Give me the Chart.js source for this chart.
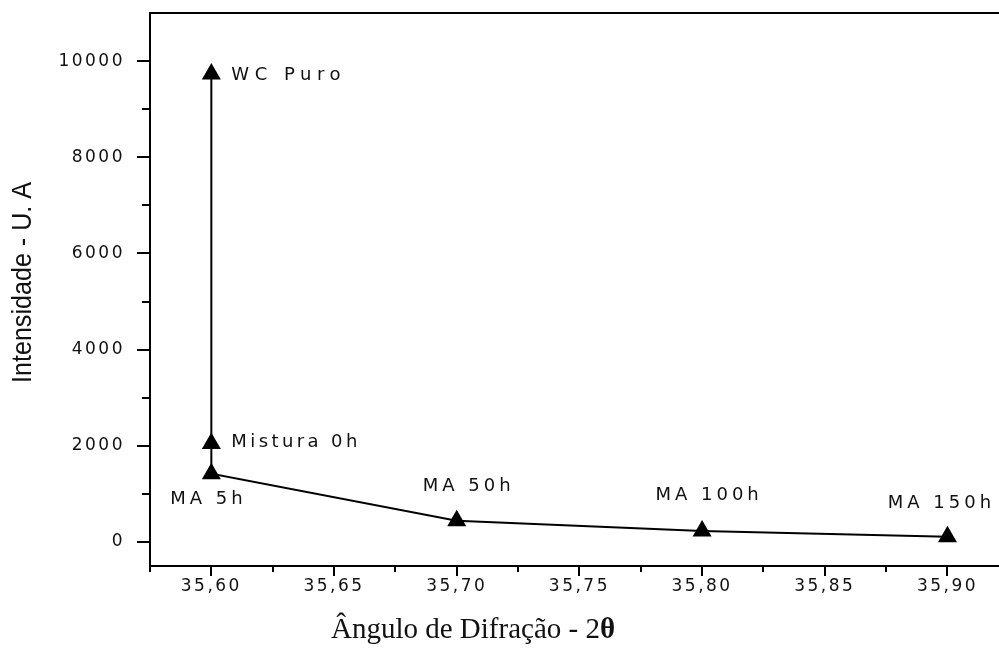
<!DOCTYPE html>
<html>
<head>
<meta charset="utf-8">
<script src="https://cdn.jsdelivr.net/npm/chart.js@4"></script>
<style>
  html, body { margin: 0; padding: 0; background: #fff; }
  #wrap { width: 999px; height: 650px; position: relative; }
</style>
</head>
<body>
<div id="wrap"><canvas id="chart"></canvas></div>
<script>
/* =========================
   DATA
========================= */

const pointNames = ["WC Puro", "Mistura 0h", "MA 5h", "MA 50h", "MA 100h", "MA 150h"];
const xValues = [35.60, 35.60, 35.60, 35.70, 35.80, 35.90];
const yValues = [9730, 2050, 1420, 440, 230, 110];

const xTickValues = [35.60, 35.65, 35.70, 35.75, 35.80, 35.85, 35.90];
const xTickLabels = ["35,60", "35,65", "35,70", "35,75", "35,80", "35,85", "35,90"];
const xMinorTicks = [35.575, 35.625, 35.675, 35.725, 35.775, 35.825, 35.875];

const yTickValues = [0, 2000, 4000, 6000, 8000, 10000];
const yTickLabels = ["0", "2000", "4000", "6000", "8000", "10000"];
const yMinorTicks = [1000, 3000, 5000, 7000, 9000];

const xTitle = "Ângulo de Difração - 2";
const xTitleSymbol = "θ";
const yTitle = "Intensidade - U. A";


/* =========================
   STYLE
========================= */

const TICK_FONT = "DejaVu Sans";
// label placement relative to its point: dx, dy, align, letter spacing
const labelStyle = [
  { dx: 20, dy: 1, align: "left", spacing: 5.5 },
  { dx: 20, dy: -1, align: "left", spacing: 3.4 },
  { dx: -3, dy: 26, align: "center", spacing: 4 },
  { dx: 12, dy: -34, align: "center", spacing: 4 },
  { dx: 7, dy: -36, align: "center", spacing: 4 },
  { dx: -6, dy: -33, align: "center", spacing: 4 }
];


/* =========================
   PLUGINS
========================= */

const spacingPlugin = {
  id: "spacing",
  beforeDraw(chart) {
    chart.ctx.letterSpacing = "2.5px";
  },
  afterDraw(chart) {
    chart.ctx.letterSpacing = "0px";
  }
};

const decorPlugin = {
  id: "decor",
  afterDraw(chart) {
    const ctx = chart.ctx;
    const area = chart.chartArea;
    const xs = chart.scales.x;
    const ys = chart.scales.y;

    ctx.save();
    ctx.letterSpacing = "0px";
    ctx.strokeStyle = "#000";
    ctx.lineWidth = 2;

    // top frame line (no right side in the original)
    ctx.beginPath();
    ctx.moveTo(area.left - 1, area.top);
    ctx.lineTo(chart.width, area.top);
    ctx.stroke();

    // minor ticks
    ctx.beginPath();
    xMinorTicks.forEach(v => {
      const px = Math.round(xs.getPixelForValue(v));
      ctx.moveTo(px, area.bottom);
      ctx.lineTo(px, area.bottom + 6);
    });
    yMinorTicks.forEach(v => {
      const py = Math.round(ys.getPixelForValue(v));
      ctx.moveTo(area.left, py);
      ctx.lineTo(area.left - 8, py);
    });
    ctx.stroke();

    // point labels
    ctx.fillStyle = "#111";
    ctx.font = "18px '" + TICK_FONT + "'";
    ctx.textBaseline = "middle";
    const meta = chart.getDatasetMeta(0);
    meta.data.forEach((pt, i) => {
      const s = labelStyle[i];
      ctx.letterSpacing = s.spacing + "px";
      ctx.textAlign = s.align;
      ctx.fillText(pointNames[i], pt.x + s.dx, pt.y + s.dy);
    });
    ctx.letterSpacing = "0px";

    // y axis title, rotated, squeezed to a narrow face
    ctx.save();
    ctx.font = "28px 'Liberation Sans Narrow', 'Liberation Sans'";
    const yw = ctx.measureText(yTitle).width;
    ctx.translate(23, (area.top + area.bottom) / 2 - 7);
    ctx.rotate(-Math.PI / 2);
    ctx.scale(201 / yw, 1);
    ctx.textAlign = "center";
    ctx.textBaseline = "middle";
    ctx.fillText(yTitle, 0, 0);
    ctx.restore();

    // x axis title: serif, with bold theta
    ctx.textAlign = "left";
    ctx.textBaseline = "alphabetic";
    ctx.font = "29px 'Liberation Serif'";
    const w1 = ctx.measureText(xTitle).width;
    ctx.font = "bold 29px 'Liberation Serif'";
    const w2 = ctx.measureText(xTitleSymbol).width;
    const cx = area.left + 323;
    const startX = cx - (w1 + w2) / 2;
    const baseY = 638;
    ctx.font = "29px 'Liberation Serif'";
    ctx.fillText(xTitle, startX, baseY);
    ctx.font = "bold 29px 'Liberation Serif'";
    ctx.fillText(xTitleSymbol, startX + w1, baseY);

    ctx.restore();
  }
};


/* =========================
   CHART
========================= */

const points = xValues.map((x, i) => ({ x: x, y: yValues[i] }));

new Chart(document.getElementById("chart"), {
  type: "line",
  data: {
    datasets: [{
      data: points,
      borderColor: "#000",
      borderWidth: 2,
      backgroundColor: "#000",
      pointStyle: "triangle",
      pointRadius: 11,
      pointBorderWidth: 0,
      tension: 0,
      clip: false
    }]
  },
  options: {
    responsive: true,
    maintainAspectRatio: false,
    animation: false,
    layout: { autoPadding: false, padding: { top: 13, right: 0, left: 0, bottom: 0 } },
    plugins: {
      legend: { display: false },
      tooltip: { enabled: false }
    },
    scales: {
      x: {
        type: "linear",
        min: 35.575,
        max: 35.921,
        afterBuildTicks: scale => {
          scale.ticks = xTickValues.map(v => ({ value: v }));
        },
        afterFit: scale => {
          scale.height = 84;
          scale.paddingLeft = 0;
          scale.paddingRight = 0;
        },
        ticks: {
          autoSkip: false,
          maxRotation: 0,
          padding: 0,
          color: "#111",
          font: { family: TICK_FONT, size: 17 },
          callback: (v, i) => xTickLabels[i]
        },
        grid: {
          drawOnChartArea: false,
          drawTicks: true,
          tickLength: 10,
          color: "#000",
          lineWidth: 2
        },
        border: { display: true, color: "#000", width: 2 }
      },
      y: {
        type: "linear",
        min: -500,
        max: 11000,
        afterBuildTicks: scale => {
          scale.ticks = yTickValues.map(v => ({ value: v }));
        },
        afterFit: scale => {
          scale.width = 150;
          scale.paddingTop = 0;
          scale.paddingBottom = 0;
        },
        ticks: {
          autoSkip: false,
          padding: 12,
          color: "#111",
          font: { family: TICK_FONT, size: 17 },
          callback: (v, i) => yTickLabels[i]
        },
        grid: {
          drawOnChartArea: false,
          drawTicks: true,
          tickLength: 13,
          color: "#000",
          lineWidth: 2
        },
        border: { display: true, color: "#000", width: 2 },
        title: { display: false }
      }
    }
  },
  plugins: [spacingPlugin, decorPlugin]
});
</script>
</body>
</html>
